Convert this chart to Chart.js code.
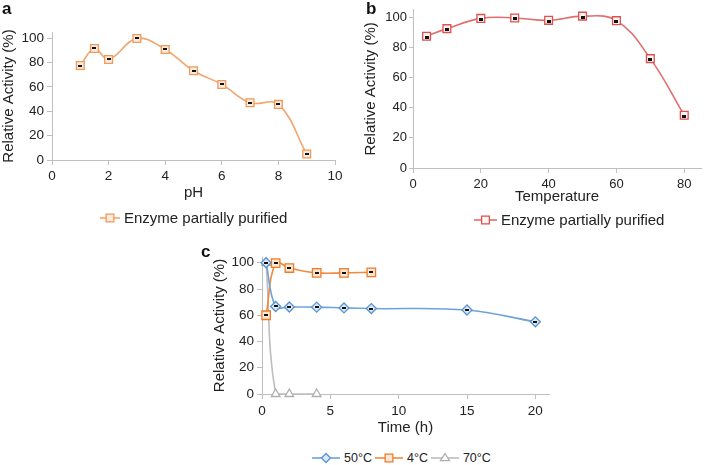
<!DOCTYPE html>
<html><head><meta charset="utf-8">
<script src="https://cdn.jsdelivr.net/npm/chart.js@4.4.1/dist/chart.umd.min.js"></script>
<style>
html,body{margin:0;padding:0;background:#fff;}
body{width:708px;height:465px;position:relative;overflow:hidden;font-family:"Liberation Sans",Arial,sans-serif;color:#222;}
.cv{position:absolute;}
.lbl{position:absolute;font-weight:bold;font-size:17px;color:#111;line-height:17px;}
.leg{position:absolute;display:flex;align-items:center;white-space:nowrap;color:#222;}
.leg canvas{display:block;margin-right:4px;}
</style></head><body>
<div class="cv" style="left:0;top:0;width:350px;height:205px"><canvas id="ca"></canvas></div>
<div class="cv" style="left:350px;top:0;width:358px;height:210px"><canvas id="cb"></canvas></div>
<div class="cv" style="left:180px;top:235px;width:380px;height:205px"><canvas id="cc"></canvas></div>
<div class="lbl" style="left:2px;top:0px">a</div>
<div class="lbl" style="left:366px;top:0px">b</div>
<div class="lbl" style="left:201px;top:243px">c</div>
<div id="legA" class="leg" style="left:100px;top:209px;font-size:15px"></div>
<div id="legB" class="leg" style="left:474px;top:211px;font-size:15px"></div>
<div id="legC" class="leg" style="left:312px;top:451px;font-size:12.5px"></div>
<script>
// ---------- data ----------
const phValues = [1, 1.5, 2, 3, 4, 5, 6, 7, 8, 9];
const phActivity = [77.5, 91.5, 82.5, 99.7, 90.7, 73.2, 62, 47, 45.6, 4.9];
const tempValues = [4, 10, 20, 30, 40, 50, 60, 70, 80];
const tempActivity = [87.5, 92.5, 99.3, 99.6, 98, 100.8, 97.8, 72.6, 35];
const timeHours = [0.3, 1, 2, 4, 6, 8, 15, 20];
const act50C = [100, 66.7, 66.3, 66.2, 65.6, 65.1, 64, 55];
const act4C = [60, 99.8, 96, 92.3, 92.3, 92.7];
const act70C = [100, 0, 0, 0];
const activityTicks = [0, 20, 40, 60, 80, 100];
const phTicks = [0, 2, 4, 6, 8, 10];
const tempTicks = [0, 20, 40, 60, 80];
const timeTicks = [0, 5, 10, 15, 20];
const seriesAB = 'Enzyme partially purified';
const seriesC = ['50°C', '4°C', '70°C'];

// ---------- style ----------
const FONT = "'Liberation Sans', Arial, sans-serif";
Chart.defaults.font.family = FONT;
Chart.defaults.color = '#222';
const AX = '#BFBFBF';
const colA = {line:'#F2A56E', border:'#EE9A5C', fill:'#FDEBDD'};
const colB = {line:'#E26D6D', border:'#D9534F', fill:'#FFF4F4'};
const colC = [
  {line:'#6EA3DA', border:'#5B93CF', fill:'#DCEAF7', style:'rectRot', r:5},
  {line:'#EF8B3E', border:'#EC7D2C', fill:'#FCE6D4', style:'rect', r:6},
  {line:'#BDBDBD', border:'#AFAFAF', fill:'#FFFFFF', style:'triangle', r:5}
];

const innerMark = {
  id: 'innerMark',
  afterDatasetsDraw(chart) {
    const ctx = chart.ctx;
    chart.data.datasets.forEach((ds, i) => {
      const m = ds.innerMark;
      if (!m) return;
      ctx.save();
      ctx.fillStyle = m.color || '#111';
      chart.getDatasetMeta(i).data.forEach(el => {
        ctx.fillRect(Math.round(el.x - m.w / 2 + (m.dx || 0)), Math.round(el.y - m.h / 2 + (m.dy || 0)), m.w, m.h);
      });
      ctx.restore();
    });
  }
};

function pts(xs, ys) { return ys.map((y, i) => ({x: xs[i], y: y})); }

function mkX(min, max, ticks, title, height, tPadBottom, tickPad, tickSize) {
  return {
    type: 'linear', position: 'bottom', min: min, max: max,
    afterBuildTicks: s => { s.ticks = ticks.map(v => ({value: v})); },
    afterFit: s => { s.height = height; },
    grid: {drawOnChartArea: false, drawTicks: true, tickLength: 5, color: AX},
    border: {color: AX, width: 1},
    ticks: {padding: tickPad, font: {size: tickSize}, color: '#222', maxRotation: 0, autoSkip: false},
    title: {display: true, text: title, font: {size: 15}, color: '#222', padding: {top: 0, bottom: tPadBottom}}
  };
}
function mkY(max, width, tPadTop, tickPad, tickLen, tickSize) {
  return {
    type: 'linear', position: 'left', min: 0, max: max,
    afterBuildTicks: s => { s.ticks = activityTicks.map(v => ({value: v})); },
    afterFit: s => { s.width = width; },
    grid: {drawOnChartArea: false, drawTicks: true, tickLength: tickLen, color: AX},
    border: {color: AX, width: 1},
    ticks: {padding: tickPad, font: {size: tickSize}, color: '#222', autoSkip: false},
    title: {display: true, text: 'Relative Activity (%)', font: {size: 15}, color: '#222', padding: {top: tPadTop, bottom: 0}}
  };
}
function baseOpts(pad, scales) {
  return {
    responsive: false, animation: false, maintainAspectRatio: false,
    layout: {padding: pad},
    plugins: {legend: {display: false}, tooltip: {enabled: false}},
    scales: scales
  };
}
function sizeCanvas(id, w, h) {
  const c = document.getElementById(id);
  c.width = w; c.height = h; c.style.width = w + 'px'; c.style.height = h + 'px';
  return c;
}

// ---------- chart a ----------
new Chart(sizeCanvas('ca', 350, 205), {
  type: 'scatter',
  data: {datasets: [{
    label: seriesAB, data: pts(phValues, phActivity), showLine: true, tension: 0.4,
    borderColor: colA.line, borderWidth: 1.6, backgroundColor: colA.fill,
    pointStyle: 'rect', pointRadius: 5.5, pointBorderColor: colA.border, pointBorderWidth: 1.3,
    pointBackgroundColor: colA.fill, clip: false,
    innerMark: {w: 4, h: 2}
  }]},
  options: baseOpts({left: 0, right: 15, top: 32, bottom: 0}, {
    x: mkX(0, 10, phTicks, 'pH', 45, 3, 3, 13.5),
    y: mkY(105, 52, 0, 3, 5, 13.5)
  }),
  plugins: [innerMark]
});

// ---------- chart b ----------
new Chart(sizeCanvas('cb', 358, 210), {
  type: 'scatter',
  data: {datasets: [{
    label: seriesAB, data: pts(tempValues, tempActivity), showLine: true, tension: 0.4,
    borderColor: colB.line, borderWidth: 1.6, backgroundColor: colB.fill,
    pointStyle: 'rect', pointRadius: 5.5, pointBorderColor: colB.border, pointBorderWidth: 1.3,
    pointBackgroundColor: colB.fill, clip: false,
    innerMark: {w: 4, h: 3, dy: 1}
  }]},
  options: baseOpts({left: 0, right: 2, top: 8, bottom: 0}, {
    x: mkX(0, 85, tempTicks, 'Temperature', 42, 4, 4, 13),
    y: mkY(105, 63, 12, 2, 4, 13)
  }),
  plugins: [innerMark]
});

// ---------- chart c ----------
const cSeries = [act50C, act4C, act70C];
new Chart(sizeCanvas('cc', 380, 205), {
  type: 'scatter',
  data: {datasets: cSeries.map((arr, i) => ({
    label: seriesC[i], data: pts(timeHours, arr), showLine: true, tension: 0.4,
    borderColor: colC[i].line, borderWidth: 1.6, backgroundColor: colC[i].fill,
    pointStyle: colC[i].style, pointRadius: colC[i].r, pointBorderColor: colC[i].border, pointBorderWidth: 1.3,
    pointBackgroundColor: colC[i].fill, clip: false,
    innerMark: i === 2 ? null : {w: 4, h: 2}
  }))},
  options: baseOpts({left: 0, right: 11, top: 22, bottom: 0}, {
    x: mkX(0, 21, timeTicks, 'Time (h)', 46, 3, 4, 13.5),
    y: mkY(104.4, 82, 31, 3, 5, 13.5)
  }),
  plugins: [innerMark]
});

// ---------- legends (HTML text, canvas icons) ----------
function drawMarker(ctx, style, x, y, r) {
  ctx.beginPath();
  if (style === 'rect') {
    const s = r * Math.SQRT1_2;
    ctx.rect(x - s, y - s, 2 * s, 2 * s);
  } else if (style === 'rectRot') {
    ctx.moveTo(x, y - r); ctx.lineTo(x + r, y); ctx.lineTo(x, y + r); ctx.lineTo(x - r, y); ctx.closePath();
  } else {
    ctx.moveTo(x, y - r); ctx.lineTo(x + r, y + r * 0.6); ctx.lineTo(x - r, y + r * 0.6); ctx.closePath();
  }
  ctx.fill(); ctx.stroke();
}
function legendItem(container, text, c, style, r, iconW, gap) {
  const item = document.createElement('div');
  item.style.display = 'flex'; item.style.alignItems = 'center'; item.style.marginRight = gap + 'px';
  const cv = document.createElement('canvas');
  cv.width = iconW; cv.height = 14; cv.style.width = iconW + 'px'; cv.style.height = '14px';
  const ctx = cv.getContext('2d');
  ctx.strokeStyle = c.line; ctx.lineWidth = 1.6;
  ctx.beginPath(); ctx.moveTo(0, 7); ctx.lineTo(iconW, 7); ctx.stroke();
  ctx.fillStyle = c.fill; ctx.strokeStyle = c.border; ctx.lineWidth = 1.3;
  drawMarker(ctx, style, iconW / 2, 7, r);
  const sp = document.createElement('span');
  sp.textContent = text;
  item.appendChild(cv); item.appendChild(sp);
  container.appendChild(item);
}
legendItem(document.getElementById('legA'), seriesAB, colA, 'rect', 5.5, 20, 0);
legendItem(document.getElementById('legB'), seriesAB, colB, 'rect', 5.5, 23, 0);
const legC = document.getElementById('legC');
seriesC.forEach((t, i) => legendItem(legC, t, colC[i], colC[i].style, colC[i].r - 0.5, 28, 3));
</script>
</body></html>
